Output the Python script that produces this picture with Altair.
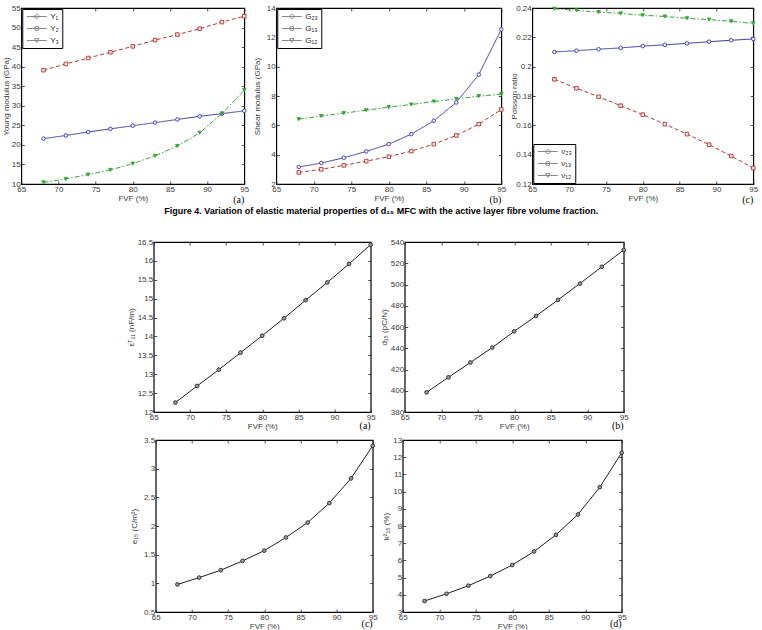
import altair as alt
import pandas as pd

# Active layer fibre volume fraction (%)
FVF = [68, 71, 74, 77, 80, 83, 86, 89, 92, 95]
FVF_TICKS = [65, 70, 75, 80, 85, 90, 95]

# Young moduli (GPa)
Y_NAMES = ["Y₁", "Y₂", "Y₃"]
Y1 = [21.6, 22.4, 23.3, 24.1, 24.9, 25.7, 26.5, 27.3, 28.0, 28.7]
Y2 = [39.1, 40.7, 42.2, 43.7, 45.2, 46.8, 48.2, 49.7, 51.4, 52.9]
Y3 = [10.4, 11.3, 12.4, 13.6, 15.2, 17.2, 19.7, 23.1, 28.0, 34.0]
Y_TICKS = [10, 15, 20, 25, 30, 35, 40, 45, 50, 55]

# Shear moduli (GPa)
G_NAMES = ["G₂₃", "G₁₃", "G₁₂"]
G23 = [3.16, 3.43, 3.79, 4.22, 4.72, 5.40, 6.31, 7.56, 9.46, 12.54]
G13 = [2.79, 3.00, 3.27, 3.56, 3.86, 4.24, 4.72, 5.31, 6.08, 7.08]
G12 = [6.42, 6.63, 6.83, 7.03, 7.24, 7.42, 7.62, 7.80, 7.99, 8.12]
G_TICKS = [2, 4, 6, 8, 10, 12, 14]

# Poisson ratios
NU_NAMES = ["ν₂₃", "ν₁₃", "ν₁₂"]
NU23 = [0.2100, 0.2109, 0.2119, 0.2128, 0.2140, 0.2149, 0.2159, 0.2170, 0.2180, 0.2189]
NU13 = [0.1914, 0.1853, 0.1795, 0.1734, 0.1673, 0.1608, 0.1540, 0.1468, 0.1391, 0.1309]
NU12 = [0.2395, 0.2384, 0.2372, 0.2363, 0.2351, 0.2342, 0.2330, 0.2321, 0.2309, 0.2295]
NU_TICKS = [0.12, 0.14, 0.16, 0.18, 0.20, 0.22, 0.24]

# Piezoelectric properties
EPS_T11 = [12.25, 12.69, 13.12, 13.57, 14.02, 14.48, 14.96, 15.43, 15.92, 16.43]
EPS_TICKS = [12, 12.5, 13, 13.5, 14, 14.5, 15, 15.5, 16, 16.5]
D15 = [398.5, 412.7, 426.6, 440.7, 455.9, 470.4, 485.5, 500.9, 516.7, 532.6]
D15_TICKS = [380, 400, 420, 440, 460, 480, 500, 520, 540]
E15 = [0.98, 1.10, 1.23, 1.39, 1.57, 1.80, 2.06, 2.40, 2.83, 3.40]
E15_TICKS = [0.5, 1, 1.5, 2, 2.5, 3, 3.5]
K15_SQ = [3.64, 4.06, 4.53, 5.09, 5.73, 6.52, 7.49, 8.67, 10.26, 12.26]
K15_TICKS = [3, 4, 5, 6, 7, 8, 9, 10, 11, 12, 13]

CAPTION = ("Figure 4. Variation of elastic material properties of d₁₅ MFC "
           "with the active layer fibre volume fraction.")

# Series styling (solid / dashed / dash-dot with circle / square / triangle markers)
SERIES_COLORS = ["#3c3ca2", "#ac3a3a", "#3aa43a"]
SERIES_FILLS = ["#eeeef8", "#f2dede", "#3aa43a"]
SERIES_DASHES = [[1, 0], [4, 2.5], [5, 2, 1.5, 2]]
SERIES_MARKERS = ["circle", "square", "triangle-down"]
# Legend keys: a short line segment with the marker in its middle
LEGEND_KEYS = [
    "M-2.5,0H2.5M-0.5,0A0.5,0.5,0,1,1,0.5,0A0.5,0.5,0,1,1,-0.5,0Z",
    "M-2.5,0H2.5M-0.45,-0.45H0.45V0.45H-0.45Z",
    "M-2.5,0H2.5M-0.55,-0.45H0.55L0,0.5Z",
]

FONT = "Liberation Sans"
TICK = 3


def x_axes():
    bottom = alt.Axis(values=FVF_TICKS, title="FVF (%)", orient="bottom",
                      offset=-TICK, tickSize=TICK, domain=False, labelPadding=1,
                      titlePadding=1, labelFlush=False, labelOverlap=False, grid=False)
    top = alt.Axis(values=FVF_TICKS, title=None, orient="top", labels=False,
                   offset=-TICK, tickSize=TICK, domain=False, grid=False)
    return bottom, top


def y_axes(title, ticks, fmt, title_pad):
    left = alt.Axis(values=ticks, title=title, orient="left", format=fmt,
                    offset=-TICK, tickSize=TICK, domain=False, labelPadding=1,
                    titlePadding=title_pad, labelFlush=False, labelOverlap=False, grid=False)
    right = alt.Axis(values=ticks, title=None, orient="right", labels=False,
                     offset=-TICK, tickSize=TICK, domain=False, grid=False)
    return left, right


def tag_layer(tag, width, height, gap):
    return alt.Chart(pd.DataFrame({"tag": [tag]})).mark_text(
        font="Liberation Serif", fontSize=10, align="right", baseline="middle",
        color="black",
    ).encode(x=alt.value(width), y=alt.value(height + gap), text="tag:N")


def property_panel(names, columns, y_title, y_domain, y_ticks, y_fmt,
                   legend_orient, tag, width, height, title_pad):
    rows = []
    for name, vals in zip(names, columns):
        for f, v in zip(FVF, vals):
            rows.append({"fvf": f, "value": v, "series": name})
    df = pd.DataFrame(rows)

    xs = alt.Scale(domain=[65, 95], nice=False, zero=False)
    ys = alt.Scale(domain=y_domain, nice=False, zero=False)
    xb, xt = x_axes()
    yl, yr = y_axes(y_title, y_ticks, y_fmt, title_pad)
    color_scale = alt.Scale(domain=names, range=SERIES_COLORS)
    dash_scale = alt.Scale(domain=names, range=SERIES_DASHES)
    legend = alt.Legend(
        title=None, orient=legend_orient, offset=1, strokeColor="black",
        fillColor="white", padding=3, labelFont=FONT, labelFontSize=8,
        labelColor="#222222", symbolSize=64, symbolStrokeWidth=1,
        symbolOpacity=1, rowPadding=3, symbolOffset=7, labelOffset=9,
    )

    base = alt.Chart(df)
    lines = base.mark_line(strokeWidth=1).encode(
        x=alt.X("fvf:Q", scale=xs, axis=xb),
        y=alt.Y("value:Q", scale=ys, axis=yl),
        color=alt.Color("series:N", scale=color_scale, legend=None),
        strokeDash=alt.StrokeDash("series:N", scale=dash_scale, legend=None),
    )
    points = base.mark_point(filled=True, size=13, strokeWidth=0.9, opacity=1).encode(
        x=alt.X("fvf:Q", scale=xs, axis=xt),
        y=alt.Y("value:Q", scale=ys, axis=yr),
        stroke=alt.Stroke("series:N", scale=color_scale, legend=None),
        fill=alt.Fill("series:N", scale=alt.Scale(domain=names, range=SERIES_FILLS), legend=None),
        shape=alt.Shape("series:N", scale=alt.Scale(domain=names, range=SERIES_MARKERS), legend=None),
    )
    keys = base.mark_point(opacity=0, filled=False).encode(
        x=alt.X("fvf:Q", scale=xs, axis=None),
        y=alt.Y("value:Q", scale=ys, axis=None),
        color=alt.Color("series:N", scale=color_scale, legend=legend),
        strokeDash=alt.StrokeDash("series:N", scale=dash_scale, legend=legend),
        shape=alt.Shape("series:N", scale=alt.Scale(domain=names, range=LEGEND_KEYS), legend=legend),
    )
    return alt.layer(lines, points, keys, tag_layer(tag, width, height, 16)).resolve_scale(
        shape="independent"
    ).resolve_axis(x="independent", y="independent").properties(width=width, height=height)


def single_panel(values, y_title, y_domain, y_ticks, y_fmt, tag, width, height, title_pad, tag_gap):
    df = pd.DataFrame({"fvf": FVF, "value": values})
    xs = alt.Scale(domain=[65, 95], nice=False, zero=False)
    ys = alt.Scale(domain=y_domain, nice=False, zero=False)
    xb, xt = x_axes()
    yl, yr = y_axes(y_title, y_ticks, y_fmt, title_pad)
    base = alt.Chart(df)
    line = base.mark_line(strokeWidth=1, color="#1e1e1e").encode(
        x=alt.X("fvf:Q", scale=xs, axis=xb),
        y=alt.Y("value:Q", scale=ys, axis=yl),
    )
    pts = base.mark_point(shape="circle", filled=True, fill="#9a9a9a", stroke="#2a2a2a",
                          strokeWidth=0.9, size=14, opacity=1).encode(
        x=alt.X("fvf:Q", scale=xs, axis=xt),
        y=alt.Y("value:Q", scale=ys, axis=yr),
    )
    return alt.layer(line, pts, tag_layer(tag, width, height, tag_gap)).resolve_axis(
        x="independent", y="independent"
    ).properties(width=width, height=height)


pa = property_panel(Y_NAMES, [Y1, Y2, Y3], "Young modulus (GPa)", [10, 55], Y_TICKS, "d",
                    "top-left", "(a)", 223, 176, 1)
pb = property_panel(G_NAMES, [G23, G13, G12], "Shear modulus (GPa)", [2, 14], G_TICKS, "d",
                    "top-left", "(b)", 225, 176, 5)
pc = property_panel(NU_NAMES, [NU23, NU13, NU12], "Poisson ratio", [0.12, 0.24], NU_TICKS, ".2~f",
                    "bottom-left", "(c)", 221, 176, -3)

p2a = single_panel(EPS_T11, "εᵀ₁₁ (nF/m)", [12, 16.5], EPS_TICKS, ".1~f", "(a)", 217, 170, 2, 14)
p2b = single_panel(D15, "d₁₅ (pC/N)", [380, 540], D15_TICKS, "d", "(b)", 219, 170, 2, 14)
p3c = single_panel(E15, "e₁₅ (C/m²)", [0.5, 3.5], E15_TICKS, ".1~f", "(c)", 217, 172, 5, 12)
p3d = single_panel(K15_SQ, "k²₁₅ (%)", [3, 13], K15_TICKS, "d", "(d)", 219, 172, 2, 12)

row1 = alt.hconcat(pa, pb, pc, spacing=0).properties(
    title=alt.TitleParams(CAPTION, orient="bottom", anchor="middle", font=FONT,
                          fontSize=9, fontWeight="bold", color="black", offset=1)
)
row2 = alt.hconcat(p2a, p2b, spacing=3)
row3 = alt.hconcat(p3c, p3d, spacing=3)
lower = alt.vconcat(row2, row3, spacing=3, center=True)

chart = alt.vconcat(row1, lower, spacing=21, center=True).properties(
    padding={"left": 1, "top": 3, "right": 1, "bottom": 0}
).configure_view(
    stroke="black", strokeWidth=1.2
).configure_axis(
    labelFont=FONT, labelFontSize=8, labelColor="#3a3a3a",
    titleFont=FONT, titleFontSize=8, titleFontWeight="normal", titleColor="#3a3a3a",
    tickColor="#222222", tickWidth=0.8,
)

chart.save("out.html", embed_options={"renderer": "svg", "actions": False})
